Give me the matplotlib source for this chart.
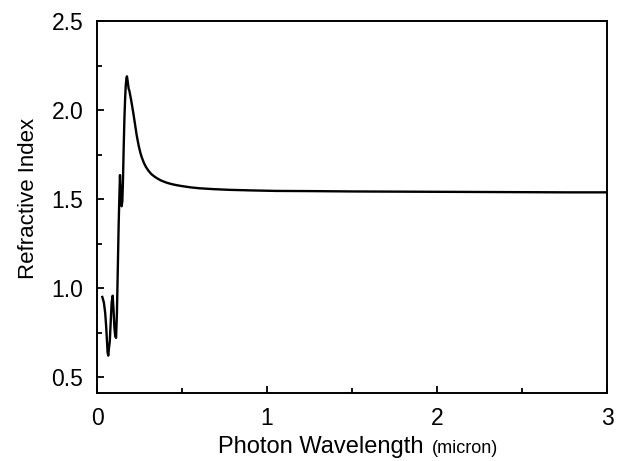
import numpy as np
import matplotlib
matplotlib.use("Agg")
import matplotlib.pyplot as plt
from matplotlib.ticker import MultipleLocator

plt.rcParams['font.family'] = ['Liberation Sans', 'DejaVu Sans']

# wavelength (micron) and refractive index
wavelength = [0.031, 0.040, 0.048, 0.054, 0.058, 0.062, 0.066, 0.070, 0.075, 0.080,
              0.086, 0.092, 0.097, 0.102, 0.107, 0.112, 0.117, 0.122, 0.127, 0.131,
              0.135, 0.138, 0.141, 0.145, 0.149, 0.153, 0.157, 0.161, 0.165, 0.169,
              0.173, 0.176, 0.179, 0.182, 0.186, 0.190, 0.194, 0.200, 0.207, 0.214,
              0.222, 0.233, 0.245, 0.255, 0.263, 0.275, 0.288, 0.302, 0.320, 0.340,
              0.360, 0.380, 0.410, 0.440, 0.470, 0.500, 0.550, 0.600, 0.684, 0.780,
              0.900, 1.05, 1.25, 1.50, 1.75, 2.00, 2.25, 2.50, 2.75, 3.00]
refr_index = [0.95, 0.92, 0.86, 0.78, 0.71, 0.64, 0.62, 0.66, 0.70, 0.80,
              0.92, 0.957, 0.88, 0.78, 0.73, 0.72, 0.86, 1.10, 1.35, 1.50,
              1.635, 1.56, 1.47, 1.46, 1.49, 1.62, 1.80, 1.95, 2.06, 2.14,
              2.18, 2.19, 2.17, 2.15, 2.12, 2.11, 2.09, 2.06, 2.02, 1.98,
              1.93, 1.86, 1.80, 1.76, 1.735, 1.705, 1.68, 1.660, 1.640, 1.625,
              1.613, 1.603, 1.592, 1.584, 1.578, 1.573, 1.566, 1.561, 1.556, 1.552,
              1.549, 1.546, 1.545, 1.543, 1.542, 1.541, 1.540, 1.539, 1.538, 1.538]

fig = plt.figure(figsize=(6.22, 4.61), dpi=100)
ax = fig.add_axes([0.156, 0.1475, 0.82, 0.8065])

ax.plot(wavelength, refr_index, color='black', lw=1.7)

ax.set_xlim(0, 3)
ax.set_ylim(0.41, 2.5)
ax.xaxis.set_major_locator(MultipleLocator(1))
ax.xaxis.set_minor_locator(MultipleLocator(0.5))
ax.yaxis.set_minor_locator(MultipleLocator(0.25))
ax.set_yticks([0.5, 1.0, 1.5, 2.0, 2.5])
ax.set_yticklabels(['0.5', '1.0', '1.5', '2.0', '2.5'])

ax.tick_params(which='both', direction='in', top=False, right=False,
               width=1.3, labelsize=16.5)
ax.tick_params(which='major', length=5, pad=10)
ax.tick_params(which='minor', length=3.5)
for s in ax.spines.values():
    s.set_linewidth(1.4)

ax.set_ylabel('Refractive Index', fontsize=16)
ax.yaxis.set_label_coords(-0.113, 0.523)

# x label with the smaller unit text
ax.annotate('Photon Wavelength', xy=(0.641, 0), xycoords='axes fraction',
            xytext=(0, -43), textcoords='offset points',
            ha='right', va='baseline', fontsize=17)
ax.annotate('(micron)', xy=(0.657, 0), xycoords='axes fraction',
            xytext=(0, -43), textcoords='offset points',
            ha='left', va='baseline', fontsize=13)

fig.savefig('out.png', dpi=100)
